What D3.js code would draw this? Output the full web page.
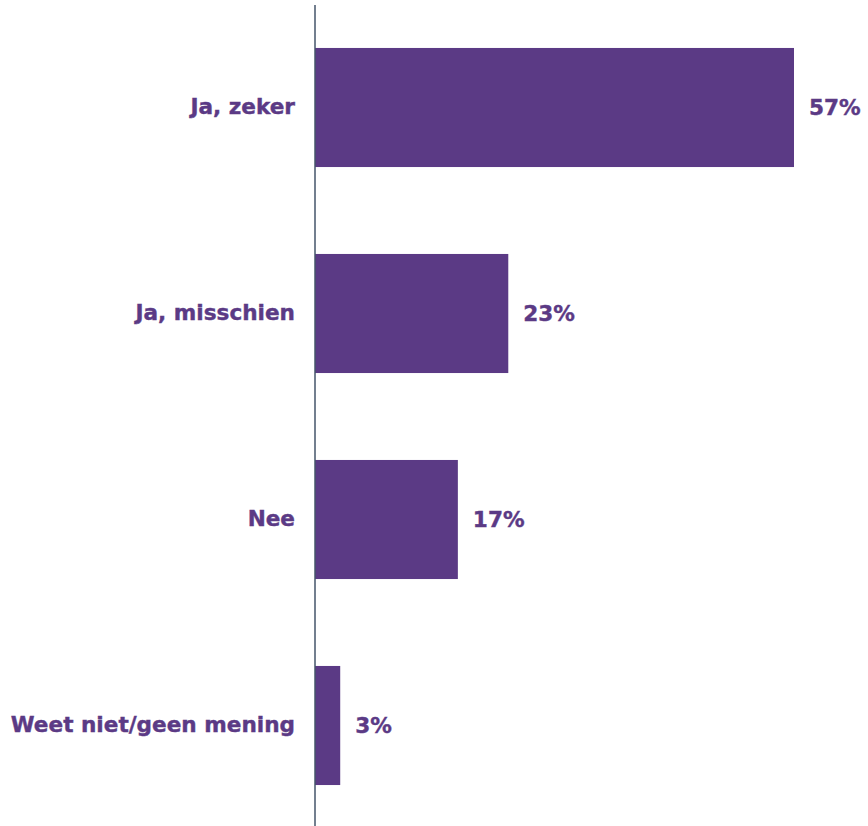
<!DOCTYPE html>
<html>
<head>
<meta charset="utf-8">
<script src="https://cdn.jsdelivr.net/npm/d3@7"></script>
<style>
  html, body { margin: 0; padding: 0; background: #ffffff; }
  svg { display: block; }
</style>
</head>
<body>
<svg id="chart" width="868" height="826"></svg>
<script>
// Survey answers and their shares (%)
const categories = ["Ja, zeker", "Ja, misschien", "Nee", "Weet niet/geen mening"];
const values = [57, 23, 17, 3];

const barColor = "#5b3a85";
const axisColor = "#44546a";
const font = "'DejaVu Sans', Verdana, sans-serif";
const fontSize = 21.6;

const svg = d3.select("#chart");
const x0 = 315;

const x = d3.scaleLinear().domain([0, 57]).range([x0, 794]);
const y = d3.scaleBand()
  .domain(categories)
  .range([4.5, 828.5])
  .paddingInner(0.422)
  .paddingOuter(0.211);

// Bars
svg.selectAll("rect.bar")
  .data(values)
  .join("rect")
  .attr("class", "bar")
  .attr("x", x0)
  .attr("y", (d, i) => y(categories[i]))
  .attr("width", d => x(d) - x0)
  .attr("height", y.bandwidth())
  .attr("fill", barColor);

// Value labels
svg.selectAll("text.value")
  .data(values)
  .join("text")
  .attr("class", "value")
  .attr("x", d => x(d) + 15)
  .attr("y", (d, i) => y(categories[i]) + y.bandwidth() / 2)
  .attr("dy", "0.35em")
  .attr("font-family", font)
  .attr("font-weight", "bold")
  .attr("font-size", fontSize)
  .attr("fill", barColor)
  .attr("stroke", barColor)
  .attr("stroke-width", 0.4)
  .text(d => d + "%");

// Category axis
const axis = d3.axisLeft(y).tickSize(0).tickPadding(20);
const g = svg.append("g").attr("transform", `translate(${x0},0)`).call(axis);
g.select(".domain").remove();
g.selectAll("text")
  .attr("font-family", font)
  .attr("font-weight", "bold")
  .attr("font-size", fontSize)
  .attr("fill", barColor)
  .attr("stroke", barColor)
  .attr("stroke-width", 0.4);

svg.append("line")
  .attr("x1", x0).attr("x2", x0)
  .attr("y1", 5).attr("y2", 826)
  .attr("stroke", axisColor)
  .attr("stroke-width", 1.5);
</script>
</body>
</html>
